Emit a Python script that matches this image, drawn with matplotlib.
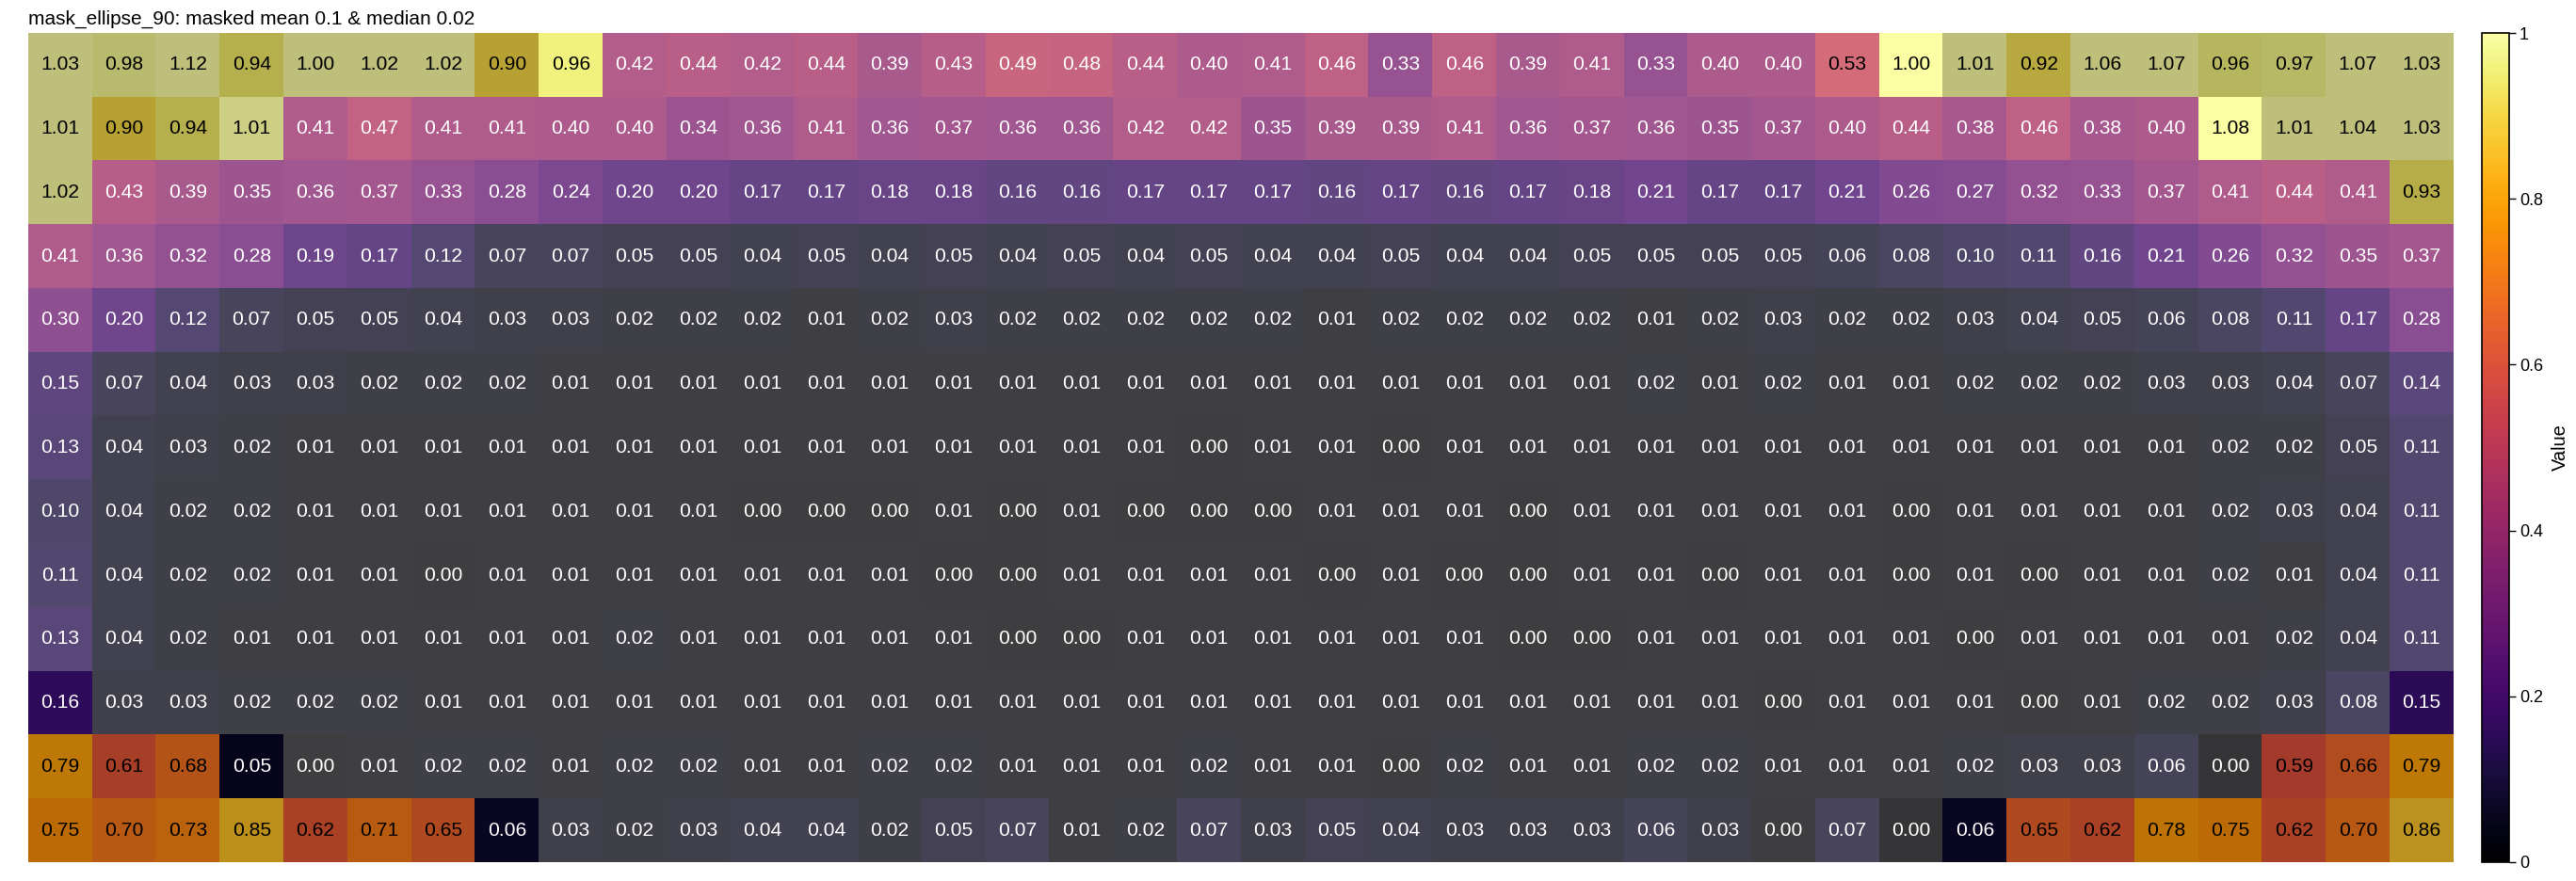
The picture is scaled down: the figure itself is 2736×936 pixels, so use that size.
import numpy as np
import matplotlib
matplotlib.use('Agg')
import matplotlib.pyplot as plt

narrow = ['Liberation Sans Narrow', 'Liberation Sans', 'DejaVu Sans']
regular = ['Liberation Sans', 'DejaVu Sans']

title = 'mask_ellipse_90: masked mean 0.1 & median 0.02'

rows = [
    [1.03, 0.98, 1.12, 0.94, 1.00, 1.02, 1.02, 0.90, 0.96, 0.42, 0.44, 0.42, 0.44, 0.39, 0.43, 0.49, 0.48, 0.44, 0.40,
     0.41, 0.46, 0.33, 0.46, 0.39, 0.41, 0.33, 0.40, 0.40, 0.53, 1.00, 1.01, 0.92, 1.06, 1.07, 0.96, 0.97, 1.07, 1.03],
    [1.01, 0.90, 0.94, 1.01, 0.41, 0.47, 0.41, 0.41, 0.40, 0.40, 0.34, 0.36, 0.41, 0.36, 0.37, 0.36, 0.36, 0.42, 0.42,
     0.35, 0.39, 0.39, 0.41, 0.36, 0.37, 0.36, 0.35, 0.37, 0.40, 0.44, 0.38, 0.46, 0.38, 0.40, 1.08, 1.01, 1.04, 1.03],
    [1.02, 0.43, 0.39, 0.35, 0.36, 0.37, 0.33, 0.28, 0.24, 0.20, 0.20, 0.17, 0.17, 0.18, 0.18, 0.16, 0.16, 0.17, 0.17,
     0.17, 0.16, 0.17, 0.16, 0.17, 0.18, 0.21, 0.17, 0.17, 0.21, 0.26, 0.27, 0.32, 0.33, 0.37, 0.41, 0.44, 0.41, 0.93],
    [0.41, 0.36, 0.32, 0.28, 0.19, 0.17, 0.12, 0.07, 0.07, 0.05, 0.05, 0.04, 0.05, 0.04, 0.05, 0.04, 0.05, 0.04, 0.05,
     0.04, 0.04, 0.05, 0.04, 0.04, 0.05, 0.05, 0.05, 0.05, 0.06, 0.08, 0.10, 0.11, 0.16, 0.21, 0.26, 0.32, 0.35, 0.37],
    [0.30, 0.20, 0.12, 0.07, 0.05, 0.05, 0.04, 0.03, 0.03, 0.02, 0.02, 0.02, 0.01, 0.02, 0.03, 0.02, 0.02, 0.02, 0.02,
     0.02, 0.01, 0.02, 0.02, 0.02, 0.02, 0.01, 0.02, 0.03, 0.02, 0.02, 0.03, 0.04, 0.05, 0.06, 0.08, 0.11, 0.17, 0.28],
    [0.15, 0.07, 0.04, 0.03, 0.03, 0.02, 0.02, 0.02, 0.01, 0.01, 0.01, 0.01, 0.01, 0.01, 0.01, 0.01, 0.01, 0.01, 0.01,
     0.01, 0.01, 0.01, 0.01, 0.01, 0.01, 0.02, 0.01, 0.02, 0.01, 0.01, 0.02, 0.02, 0.02, 0.03, 0.03, 0.04, 0.07, 0.14],
    [0.13, 0.04, 0.03, 0.02, 0.01, 0.01, 0.01, 0.01, 0.01, 0.01, 0.01, 0.01, 0.01, 0.01, 0.01, 0.01, 0.01, 0.01, 0.00,
     0.01, 0.01, 0.00, 0.01, 0.01, 0.01, 0.01, 0.01, 0.01, 0.01, 0.01, 0.01, 0.01, 0.01, 0.01, 0.02, 0.02, 0.05, 0.11],
    [0.10, 0.04, 0.02, 0.02, 0.01, 0.01, 0.01, 0.01, 0.01, 0.01, 0.01, 0.00, 0.00, 0.00, 0.01, 0.00, 0.01, 0.00, 0.00,
     0.00, 0.01, 0.01, 0.01, 0.00, 0.01, 0.01, 0.01, 0.01, 0.01, 0.00, 0.01, 0.01, 0.01, 0.01, 0.02, 0.03, 0.04, 0.11],
    [0.11, 0.04, 0.02, 0.02, 0.01, 0.01, 0.00, 0.01, 0.01, 0.01, 0.01, 0.01, 0.01, 0.01, 0.00, 0.00, 0.01, 0.01, 0.01,
     0.01, 0.00, 0.01, 0.00, 0.00, 0.01, 0.01, 0.00, 0.01, 0.01, 0.00, 0.01, 0.00, 0.01, 0.01, 0.02, 0.01, 0.04, 0.11],
    [0.13, 0.04, 0.02, 0.01, 0.01, 0.01, 0.01, 0.01, 0.01, 0.02, 0.01, 0.01, 0.01, 0.01, 0.01, 0.00, 0.00, 0.01, 0.01,
     0.01, 0.01, 0.01, 0.01, 0.00, 0.00, 0.01, 0.01, 0.01, 0.01, 0.01, 0.00, 0.01, 0.01, 0.01, 0.01, 0.02, 0.04, 0.11],
    [0.16, 0.03, 0.03, 0.02, 0.02, 0.02, 0.01, 0.01, 0.01, 0.01, 0.01, 0.01, 0.01, 0.01, 0.01, 0.01, 0.01, 0.01, 0.01,
     0.01, 0.01, 0.01, 0.01, 0.01, 0.01, 0.01, 0.01, 0.00, 0.01, 0.01, 0.01, 0.00, 0.01, 0.02, 0.02, 0.03, 0.08, 0.15],
    [0.79, 0.61, 0.68, 0.05, 0.00, 0.01, 0.02, 0.02, 0.01, 0.02, 0.02, 0.01, 0.01, 0.02, 0.02, 0.01, 0.01, 0.01, 0.02,
     0.01, 0.01, 0.00, 0.02, 0.01, 0.01, 0.02, 0.02, 0.01, 0.01, 0.01, 0.02, 0.03, 0.03, 0.06, 0.00, 0.59, 0.66, 0.79],
    [0.75, 0.70, 0.73, 0.85, 0.62, 0.71, 0.65, 0.06, 0.03, 0.02, 0.03, 0.04, 0.04, 0.02, 0.05, 0.07, 0.01, 0.02, 0.07,
     0.03, 0.05, 0.04, 0.03, 0.03, 0.03, 0.06, 0.03, 0.00, 0.07, 0.00, 0.06, 0.65, 0.62, 0.78, 0.75, 0.62, 0.70, 0.86],
]
values = np.array(rows)

# mask shading: +1 = inside ellipse (lightened), -1 = outside (darkened), 0 = untouched
outside_spans = [(0, 0, 8), (0, 30, 38), (1, 0, 3), (1, 35, 38), (2, 0, 1), (2, 37, 38),
                 (11, 0, 3), (11, 35, 38), (12, 0, 7), (12, 31, 38)]
untouched = [(0, 8), (0, 29), (1, 34), (10, 0), (10, 37), (11, 3), (12, 7), (12, 30)]
partial = {(1, 3): -0.75, (11, 34): 0.85, (12, 29): 0.85}

shade = np.ones(values.shape)
for r, c0, c1 in outside_spans:
    shade[r, c0:c1] = -1
for r, c in untouched:
    shade[r, c] = 0
for (r, c), s in partial.items():
    shade[r, c] = s

overlay = np.zeros(values.shape + (4,))
overlay[shade > 0, :3] = 1.0
overlay[..., 3] = 0.25 * np.abs(shade)

W, H = 2736, 936
fig = plt.figure(figsize=(W / 200, H / 200), dpi=200)
ax = fig.add_axes([30 / W, 1 - 916 / H, 2576 / W, 881 / H])
im = ax.imshow(values, cmap='inferno', vmin=0, vmax=1, aspect='auto', interpolation='nearest')
ax.imshow(overlay, aspect='auto', interpolation='nearest')
ax.set_axis_off()

for i in range(values.shape[0]):
    for j in range(values.shape[1]):
        v = values[i, j]
        ax.text(j, i, f'{v:.2f}', ha='center', va='center', fontsize=7.6, family=narrow,
                color='black' if v > 0.5 else 'white')

ax.set_title(title, loc='left', fontsize=7.5, pad=3.5, family=narrow)

cax = fig.add_axes([2636 / W, 1 - 916 / H, 29 / W, 881 / H])
cb = fig.colorbar(im, cax=cax)
cb.set_ticks([0, 0.2, 0.4, 0.6, 0.8, 1])
cb.set_ticklabels(['0', '0.2', '0.4', '0.6', '0.8', '1'])
cax.tick_params(labelsize=6.5, length=2.5, width=0.5, pad=1.5)
for lab in cax.get_yticklabels():
    lab.set_family(regular)
cb.outline.set_linewidth(0.6)
cb.set_label('Value', fontsize=7.2, family=narrow, labelpad=3)

fig.savefig('out.png', dpi=200)
